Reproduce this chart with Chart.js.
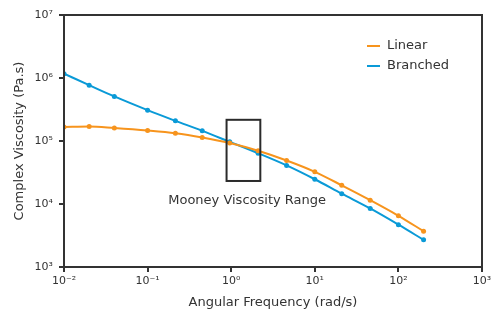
<!DOCTYPE html>
<html lang="en">
<head>
    <meta charset="UTF-8">
    <title>Complex Viscosity vs Angular Frequency</title>
    <script src="https://cdn.jsdelivr.net/npm/chart.js"></script>
    <style>
        body {
            margin: 0;
            background: #fff;
        }
        #chartBox {
            width: 491px;
            height: 310px;
        }
    </style>
</head>
<body>
    <div id="chartBox"><canvas id="viscChart"></canvas></div>

    <script>
        // data (log-log)
        const freq = [0.01, 0.02, 0.04, 0.1, 0.215, 0.45, 0.96, 2.1, 4.6, 10, 21, 46, 100, 200];
        const linear = [1.67e5, 1.70e5, 1.61e5, 1.47e5, 1.33e5, 1.14e5, 9.3e4, 7.0e4, 4.9e4, 3.24e4, 1.98e4, 1.15e4, 6.5e3, 3.7e3];
        const branched = [1.17e6, 7.7e5, 5.1e5, 3.09e5, 2.09e5, 1.45e5, 9.7e4, 6.4e4, 4.1e4, 2.47e4, 1.46e4, 8.5e3, 4.7e3, 2.7e3];

        const xTicks = [0.01, 0.1, 1, 10, 100, 1000];
        const xTickLabels = ['10⁻²', '10⁻¹', '10⁰', '10¹', '10²', '10³'];
        const yTicks = [1e3, 1e4, 1e5, 1e6, 1e7];
        const yTickLabels = ['10³', '10⁴', '10⁵', '10⁶', '10⁷'];

        // Mooney viscosity range box
        const boxFreq = [0.88, 2.23];
        const boxVisc = [2.32e4, 2.17e5];
        const boxLabel = 'Mooney Viscosity Range';
        const boxLabelAt = [1.55, 1.12e4];

        const seriesNames = ['Linear', 'Branched'];
        const seriesColors = ['#F7941D', '#0A9AD7'];

        const FONT = "'DejaVu Sans', sans-serif";
        const TEXT = '#333333';
        const AXIS = '#333333';

        function toPoints(xs, ys) {
            return xs.map((x, i) => ({ x: x, y: ys[i] }));
        }

        // frame, box, label and legend
        const extras = {
            id: 'extras',
            afterDatasetsDraw(chart) {
                const c = chart.ctx;
                const a = chart.chartArea;
                const sx = chart.scales.x, sy = chart.scales.y;
                c.save();

                // frame round the plot
                c.strokeStyle = AXIS;
                c.lineWidth = 2;
                c.strokeRect(a.left, a.top, a.right - a.left, a.bottom - a.top);

                // range box
                const x0 = sx.getPixelForValue(boxFreq[0]), x1 = sx.getPixelForValue(boxFreq[1]);
                const y0 = sy.getPixelForValue(boxVisc[1]), y1 = sy.getPixelForValue(boxVisc[0]);
                c.strokeStyle = '#2b2b2b';
                c.lineWidth = 2;
                c.strokeRect(x0, y0, x1 - x0, y1 - y0);

                c.fillStyle = TEXT;
                c.font = '13px ' + FONT;
                c.textAlign = 'center';
                c.textBaseline = 'middle';
                c.fillText(boxLabel, sx.getPixelForValue(boxLabelAt[0]), sy.getPixelForValue(boxLabelAt[1]));

                // legend, top right inside the plot
                c.textAlign = 'left';
                seriesNames.forEach((name, i) => {
                    const ly = a.top + 31 + i * 20;
                    const lx = a.right - 115;
                    c.strokeStyle = seriesColors[i];
                    c.lineWidth = 2;
                    c.beginPath();
                    c.moveTo(lx, ly);
                    c.lineTo(lx + 13, ly);
                    c.stroke();
                    c.fillStyle = TEXT;
                    c.fillText(name, lx + 20, ly);
                });
                c.restore();
            }
        };

        const ctx = document.getElementById('viscChart').getContext('2d');
        const viscChart = new Chart(ctx, {
            type: 'line',
            data: {
                datasets: [
                    {
                        label: seriesNames[0],
                        data: toPoints(freq, linear),
                        borderColor: seriesColors[0],
                        backgroundColor: seriesColors[0],
                        borderWidth: 2,
                        pointRadius: 2.5,
                        pointBorderWidth: 0,
                        cubicInterpolationMode: 'monotone',
                        fill: false
                    },
                    {
                        label: seriesNames[1],
                        data: toPoints(freq, branched),
                        borderColor: seriesColors[1],
                        backgroundColor: seriesColors[1],
                        borderWidth: 2,
                        pointRadius: 2.5,
                        pointBorderWidth: 0,
                        cubicInterpolationMode: 'monotone',
                        fill: false
                    }
                ]
            },
            options: {
                responsive: true,
                maintainAspectRatio: false,
                animation: false,
                layout: {
                    padding: { top: 15, right: 9, left: 0, bottom: 0 }
                },
                plugins: {
                    legend: { display: false },
                    tooltip: { enabled: false }
                },
                scales: {
                    x: {
                        type: 'logarithmic',
                        min: 0.01,
                        max: 1000,
                        afterBuildTicks: s => { s.ticks = xTicks.map(v => ({ value: v })); },
                        afterFit: s => { s.height = 43; s.paddingLeft = 0; s.paddingRight = 0; },
                        border: { display: true, color: AXIS, width: 2 },
                        grid: { drawOnChartArea: false, drawTicks: true, tickLength: 5, color: AXIS, lineWidth: 2 },
                        ticks: {
                            autoSkip: false,
                            maxRotation: 0,
                            padding: 3,
                            color: TEXT,
                            font: { family: FONT, size: 11 },
                            callback: (v) => xTickLabels[xTicks.indexOf(v)]
                        },
                        title: {
                            display: true,
                            text: 'Angular Frequency (rad/s)',
                            color: TEXT,
                            font: { family: FONT, size: 13 },
                            padding: 0
                        }
                    },
                    y: {
                        type: 'logarithmic',
                        min: 1e3,
                        max: 1e7,
                        afterBuildTicks: s => { s.ticks = yTicks.map(v => ({ value: v })); },
                        afterFit: s => { s.width = 64; s.paddingTop = 0; s.paddingBottom = 0; },
                        border: { display: true, color: AXIS, width: 2 },
                        grid: { drawOnChartArea: false, drawTicks: true, tickLength: 5, color: AXIS, lineWidth: 2 },
                        ticks: {
                            autoSkip: false,
                            padding: 6,
                            color: TEXT,
                            font: { family: FONT, size: 11 },
                            callback: (v) => yTickLabels[yTicks.indexOf(v)]
                        },
                        title: {
                            display: true,
                            text: 'Complex Viscosity (Pa.s)',
                            color: TEXT,
                            font: { family: FONT, size: 13 },
                            padding: { top: 12, bottom: 0 }
                        }
                    }
                }
            },
            plugins: [extras]
        });
    </script>
</body>
</html>
